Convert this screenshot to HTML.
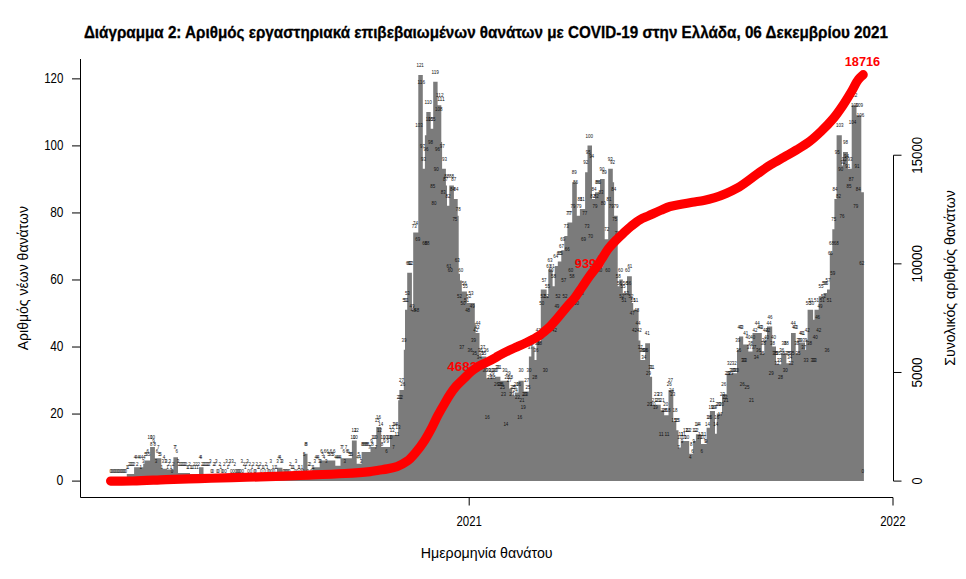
<!DOCTYPE html>
<html><head><meta charset="utf-8"><style>
html,body{margin:0;padding:0;background:#fff;}
svg{display:block;font-family:"Liberation Sans", sans-serif;}
</style></head><body>
<svg width="966" height="579" viewBox="0 0 966 579">
<rect width="966" height="579" fill="#fff"/>
<text x="485.9" y="37.9" font-size="16.4" text-anchor="middle" font-weight="bold" fill="#000" textLength="804" lengthAdjust="spacingAndGlyphs" stroke="#000" stroke-width="0.3">Διάγραμμα 2: Αριθμός εργαστηριακά επιβεβαιωμένων θανάτων με COVID-19 στην Ελλάδα, 06 Δεκεμβρίου 2021</text>
<path d="M126.80,481.0L126.80,473.90L134.10,473.90L134.10,467.19L143.20,467.19L143.20,463.84L144.50,463.84L144.50,460.49L150.10,460.49L150.10,447.08L154.90,447.08L154.90,458.14L161.30,458.14L161.30,468.87L167.00,468.87L167.00,469.54L173.40,469.54L173.40,457.14L178.00,457.14L178.00,472.89L190.00,472.89L190.00,473.90L199.00,473.90L199.00,467.19L203.50,467.19L203.50,476.58L240.00,476.58L240.00,477.25L277.00,477.25L277.00,467.86L282.40,467.86L282.40,477.25L303.20,477.25L303.20,453.78L307.50,453.78L307.50,473.90L312.50,473.90L312.50,467.19L319.70,467.19L319.70,460.49L335.30,460.49L335.30,465.85L340.50,465.85L340.50,458.14L351.90,458.14L351.90,440.38L356.70,440.38L356.70,463.84L361.60,463.84L361.60,452.11L370.50,452.11L370.50,447.08L376.30,447.08L376.30,426.97L381.20,426.97L381.20,447.08L390.00,447.08L390.00,435.01L398.20,435.01L398.20,400.15L399.40,400.15L399.40,390.10L403.80,390.10L403.80,349.87L405.00,349.87L405.00,309.65L407.20,309.65L407.20,272.78L411.90,272.78L411.90,309.65L413.20,309.65L413.20,232.55L418.30,232.55L418.30,75.01L422.80,75.01L422.80,168.86L424.90,168.86L424.90,135.34L426.30,135.34L426.30,111.88L430.70,111.88L430.70,128.64L433.20,128.64L433.20,81.71L437.60,81.71L437.60,105.18L441.30,105.18L441.30,142.05L442.10,142.05L442.10,168.86L445.90,168.86L445.90,185.62L447.00,185.62L447.00,205.74L449.30,205.74L449.30,185.62L453.90,185.62L453.90,199.03L457.70,199.03L457.70,215.79L458.70,215.79L458.70,273.78L460.00,273.78L460.00,280.49L461.80,280.49L461.80,291.55L466.90,291.55L466.90,302.94L474.80,302.94L474.80,323.06L475.60,323.06L475.60,333.11L479.50,333.11L479.50,356.58L486.40,356.58L486.40,378.36L495.20,378.36L495.20,376.69L500.40,376.69L500.40,380.71L509.20,380.71L509.20,388.42L512.30,388.42L512.30,395.46L514.90,395.46L514.90,392.44L518.50,392.44L518.50,380.71L523.70,380.71L523.70,391.44L528.90,391.44L528.90,356.58L531.30,356.58L531.30,346.52L534.50,346.52L534.50,359.93L536.50,359.93L536.50,341.49L540.80,341.49L540.80,289.54L546.60,289.54L546.60,296.24L548.30,296.24L548.30,269.42L552.60,269.42L552.60,286.18L554.70,286.18L554.70,266.07L557.80,266.07L557.80,261.38L561.30,261.38L561.30,250.32L564.30,250.32L564.30,235.90L567.40,235.90L567.40,222.50L572.20,222.50L572.20,182.27L576.80,182.27L576.80,215.79L579.90,215.79L579.90,209.09L585.10,209.09L585.10,172.22L587.50,172.22L587.50,145.40L592.00,145.40L592.00,199.03L595.00,199.03L595.00,192.33L600.00,192.33L600.00,178.92L604.70,178.92L604.70,239.26L608.20,239.26L608.20,168.86L612.80,168.86L612.80,182.27L614.10,182.27L614.10,215.79L617.70,215.79L617.70,286.18L619.30,286.18L619.30,279.48L622.80,279.48L622.80,292.89L627.00,292.89L627.00,276.13L631.80,276.13L631.80,302.94L633.20,302.94L633.20,309.65L638.60,309.65L638.60,340.49L640.40,340.49L640.40,359.93L645.20,359.93L645.20,343.17L650.00,343.17L650.00,376.69L652.10,376.69L652.10,404.84L660.70,404.84L660.70,410.21L664.20,410.21L664.20,415.24L668.50,415.24L668.50,390.10L673.30,390.10L673.30,421.94L676.30,421.94L676.30,430.32L678.50,430.32L678.50,447.42L680.80,447.42L680.80,441.05L689.20,441.05L689.20,453.78L693.10,453.78L693.10,441.05L695.90,441.05L695.90,434.34L701.00,434.34L701.00,444.06L706.60,444.06L706.60,427.64L709.90,427.64L709.90,410.88L715.00,410.88L715.00,433.67L716.80,433.67L716.80,413.56L722.00,413.56L722.00,394.12L726.60,394.12L726.60,374.01L731.80,374.01L731.80,373.34L737.00,373.34L737.00,349.87L739.00,349.87L739.00,336.46L743.20,336.46L743.20,344.51L748.30,344.51L748.30,351.55L752.50,351.55L752.50,333.11L761.80,333.11L761.80,353.22L764.30,353.22L764.30,340.49L767.00,340.49L767.00,326.41L772.20,326.41L772.20,346.52L776.00,346.52L776.00,364.29L781.20,364.29L781.20,353.22L786.40,353.22L786.40,363.28L791.00,363.28L791.00,333.11L795.70,333.11L795.70,353.22L798.30,353.22L798.30,342.50L805.00,342.50L805.00,349.87L806.10,349.87L806.10,339.82L807.60,339.82L807.60,309.65L813.10,309.65L813.10,319.70L814.50,319.70L814.50,309.65L818.70,309.65L818.70,296.24L823.50,296.24L823.50,292.89L827.00,292.89L827.00,289.54L829.80,289.54L829.80,252.66L832.30,252.66L832.30,229.20L834.40,229.20L834.40,199.03L836.60,199.03L836.60,135.34L841.80,135.34L841.80,165.51L843.00,165.51L843.00,152.10L847.90,152.10L847.90,168.86L851.70,168.86L851.70,105.18L856.50,105.18L856.50,115.23L861.30,115.23L861.30,192.33L863.90,192.33L863.90,481.0Z" fill="#7b7b7b"/>
<g font-size="6" text-anchor="middle" fill="#111"><text x="110.70" y="472.70" textLength="2.5" lengthAdjust="spacingAndGlyphs">0</text>
<text x="111.86" y="472.70" textLength="2.5" lengthAdjust="spacingAndGlyphs">0</text>
<text x="113.02" y="472.70" textLength="2.5" lengthAdjust="spacingAndGlyphs">0</text>
<text x="114.18" y="472.70" textLength="2.5" lengthAdjust="spacingAndGlyphs">0</text>
<text x="115.34" y="472.70" textLength="2.5" lengthAdjust="spacingAndGlyphs">0</text>
<text x="116.49" y="472.70" textLength="2.5" lengthAdjust="spacingAndGlyphs">0</text>
<text x="117.65" y="472.70" textLength="2.5" lengthAdjust="spacingAndGlyphs">0</text>
<text x="118.81" y="472.70" textLength="2.5" lengthAdjust="spacingAndGlyphs">0</text>
<text x="119.97" y="472.70" textLength="2.5" lengthAdjust="spacingAndGlyphs">0</text>
<text x="121.13" y="472.70" textLength="2.5" lengthAdjust="spacingAndGlyphs">0</text>
<text x="122.29" y="472.70" textLength="2.5" lengthAdjust="spacingAndGlyphs">0</text>
<text x="123.45" y="472.70" textLength="2.5" lengthAdjust="spacingAndGlyphs">0</text>
<text x="124.61" y="472.70" textLength="2.5" lengthAdjust="spacingAndGlyphs">0</text>
<text x="125.77" y="472.70" textLength="2.5" lengthAdjust="spacingAndGlyphs">0</text>
<text x="126.92" y="469.35" textLength="2.5" lengthAdjust="spacingAndGlyphs">1</text>
<text x="128.08" y="469.35" textLength="2.5" lengthAdjust="spacingAndGlyphs">1</text>
<text x="129.24" y="466.00" textLength="2.5" lengthAdjust="spacingAndGlyphs">2</text>
<text x="130.40" y="466.00" textLength="2.5" lengthAdjust="spacingAndGlyphs">2</text>
<text x="131.56" y="466.00" textLength="2.5" lengthAdjust="spacingAndGlyphs">2</text>
<text x="132.72" y="466.00" textLength="2.5" lengthAdjust="spacingAndGlyphs">2</text>
<text x="133.88" y="466.00" textLength="2.5" lengthAdjust="spacingAndGlyphs">2</text>
<text x="135.04" y="459.29" textLength="2.5" lengthAdjust="spacingAndGlyphs">4</text>
<text x="136.20" y="459.29" textLength="2.5" lengthAdjust="spacingAndGlyphs">4</text>
<text x="137.35" y="466.00" textLength="2.5" lengthAdjust="spacingAndGlyphs">2</text>
<text x="138.51" y="459.29" textLength="2.5" lengthAdjust="spacingAndGlyphs">4</text>
<text x="139.67" y="459.29" textLength="2.5" lengthAdjust="spacingAndGlyphs">4</text>
<text x="140.83" y="469.35" textLength="2.5" lengthAdjust="spacingAndGlyphs">1</text>
<text x="141.99" y="459.29" textLength="2.5" lengthAdjust="spacingAndGlyphs">4</text>
<text x="143.15" y="462.64" textLength="2.5" lengthAdjust="spacingAndGlyphs">3</text>
<text x="144.31" y="459.29" textLength="2.5" lengthAdjust="spacingAndGlyphs">4</text>
<text x="145.47" y="455.94" textLength="2.5" lengthAdjust="spacingAndGlyphs">5</text>
<text x="146.63" y="455.94" textLength="2.5" lengthAdjust="spacingAndGlyphs">5</text>
<text x="147.78" y="452.59" textLength="2.5" lengthAdjust="spacingAndGlyphs">6</text>
<text x="148.94" y="455.94" textLength="2.5" lengthAdjust="spacingAndGlyphs">5</text>
<text x="150.10" y="439.18" textLength="5.0" lengthAdjust="spacingAndGlyphs">10</text>
<text x="151.26" y="445.88" textLength="2.5" lengthAdjust="spacingAndGlyphs">8</text>
<text x="152.42" y="439.18" textLength="5.0" lengthAdjust="spacingAndGlyphs">10</text>
<text x="153.58" y="442.53" textLength="2.5" lengthAdjust="spacingAndGlyphs">9</text>
<text x="154.74" y="445.88" textLength="2.5" lengthAdjust="spacingAndGlyphs">8</text>
<text x="155.90" y="462.64" textLength="2.5" lengthAdjust="spacingAndGlyphs">3</text>
<text x="157.06" y="452.59" textLength="2.5" lengthAdjust="spacingAndGlyphs">6</text>
<text x="158.21" y="449.24" textLength="2.5" lengthAdjust="spacingAndGlyphs">7</text>
<text x="159.37" y="455.94" textLength="2.5" lengthAdjust="spacingAndGlyphs">5</text>
<text x="160.53" y="455.94" textLength="2.5" lengthAdjust="spacingAndGlyphs">5</text>
<text x="161.69" y="469.35" textLength="2.5" lengthAdjust="spacingAndGlyphs">1</text>
<text x="162.85" y="462.64" textLength="2.5" lengthAdjust="spacingAndGlyphs">3</text>
<text x="164.01" y="459.29" textLength="2.5" lengthAdjust="spacingAndGlyphs">4</text>
<text x="165.17" y="462.64" textLength="2.5" lengthAdjust="spacingAndGlyphs">3</text>
<text x="166.33" y="462.64" textLength="2.5" lengthAdjust="spacingAndGlyphs">3</text>
<text x="167.49" y="469.35" textLength="2.5" lengthAdjust="spacingAndGlyphs">1</text>
<text x="168.65" y="466.00" textLength="2.5" lengthAdjust="spacingAndGlyphs">2</text>
<text x="169.80" y="462.64" textLength="2.5" lengthAdjust="spacingAndGlyphs">3</text>
<text x="170.96" y="469.35" textLength="2.5" lengthAdjust="spacingAndGlyphs">1</text>
<text x="172.12" y="472.70" textLength="2.5" lengthAdjust="spacingAndGlyphs">0</text>
<text x="173.28" y="466.00" textLength="2.5" lengthAdjust="spacingAndGlyphs">2</text>
<text x="174.44" y="449.24" textLength="2.5" lengthAdjust="spacingAndGlyphs">7</text>
<text x="175.60" y="449.24" textLength="2.5" lengthAdjust="spacingAndGlyphs">7</text>
<text x="176.76" y="452.59" textLength="2.5" lengthAdjust="spacingAndGlyphs">6</text>
<text x="177.92" y="462.64" textLength="2.5" lengthAdjust="spacingAndGlyphs">3</text>
<text x="179.08" y="466.00" textLength="2.5" lengthAdjust="spacingAndGlyphs">2</text>
<text x="180.23" y="466.00" textLength="2.5" lengthAdjust="spacingAndGlyphs">2</text>
<text x="181.39" y="466.00" textLength="2.5" lengthAdjust="spacingAndGlyphs">2</text>
<text x="182.55" y="466.00" textLength="2.5" lengthAdjust="spacingAndGlyphs">2</text>
<text x="183.71" y="466.00" textLength="2.5" lengthAdjust="spacingAndGlyphs">2</text>
<text x="184.87" y="466.00" textLength="2.5" lengthAdjust="spacingAndGlyphs">2</text>
<text x="186.03" y="466.00" textLength="2.5" lengthAdjust="spacingAndGlyphs">2</text>
<text x="187.19" y="469.35" textLength="2.5" lengthAdjust="spacingAndGlyphs">1</text>
<text x="188.35" y="469.35" textLength="2.5" lengthAdjust="spacingAndGlyphs">1</text>
<text x="189.51" y="466.00" textLength="2.5" lengthAdjust="spacingAndGlyphs">2</text>
<text x="190.66" y="469.35" textLength="2.5" lengthAdjust="spacingAndGlyphs">1</text>
<text x="191.82" y="469.35" textLength="2.5" lengthAdjust="spacingAndGlyphs">1</text>
<text x="192.98" y="469.35" textLength="2.5" lengthAdjust="spacingAndGlyphs">1</text>
<text x="194.14" y="466.00" textLength="2.5" lengthAdjust="spacingAndGlyphs">2</text>
<text x="195.30" y="469.35" textLength="2.5" lengthAdjust="spacingAndGlyphs">1</text>
<text x="196.46" y="466.00" textLength="2.5" lengthAdjust="spacingAndGlyphs">2</text>
<text x="197.62" y="469.35" textLength="2.5" lengthAdjust="spacingAndGlyphs">1</text>
<text x="198.78" y="466.00" textLength="2.5" lengthAdjust="spacingAndGlyphs">2</text>
<text x="199.94" y="459.29" textLength="2.5" lengthAdjust="spacingAndGlyphs">4</text>
<text x="201.09" y="459.29" textLength="2.5" lengthAdjust="spacingAndGlyphs">4</text>
<text x="202.25" y="466.00" textLength="2.5" lengthAdjust="spacingAndGlyphs">2</text>
<text x="203.41" y="466.00" textLength="2.5" lengthAdjust="spacingAndGlyphs">2</text>
<text x="204.57" y="466.00" textLength="2.5" lengthAdjust="spacingAndGlyphs">2</text>
<text x="205.73" y="466.00" textLength="2.5" lengthAdjust="spacingAndGlyphs">2</text>
<text x="206.89" y="466.00" textLength="2.5" lengthAdjust="spacingAndGlyphs">2</text>
<text x="208.05" y="466.00" textLength="2.5" lengthAdjust="spacingAndGlyphs">2</text>
<text x="209.21" y="466.00" textLength="2.5" lengthAdjust="spacingAndGlyphs">2</text>
<text x="210.37" y="462.64" textLength="2.5" lengthAdjust="spacingAndGlyphs">3</text>
<text x="211.52" y="472.70" textLength="2.5" lengthAdjust="spacingAndGlyphs">0</text>
<text x="212.68" y="472.70" textLength="2.5" lengthAdjust="spacingAndGlyphs">0</text>
<text x="213.84" y="466.00" textLength="2.5" lengthAdjust="spacingAndGlyphs">2</text>
<text x="215.00" y="466.00" textLength="2.5" lengthAdjust="spacingAndGlyphs">2</text>
<text x="216.16" y="462.64" textLength="2.5" lengthAdjust="spacingAndGlyphs">3</text>
<text x="217.32" y="472.70" textLength="2.5" lengthAdjust="spacingAndGlyphs">0</text>
<text x="218.48" y="472.70" textLength="2.5" lengthAdjust="spacingAndGlyphs">0</text>
<text x="219.64" y="466.00" textLength="2.5" lengthAdjust="spacingAndGlyphs">2</text>
<text x="220.80" y="469.35" textLength="2.5" lengthAdjust="spacingAndGlyphs">1</text>
<text x="221.95" y="472.70" textLength="2.5" lengthAdjust="spacingAndGlyphs">0</text>
<text x="223.11" y="472.70" textLength="2.5" lengthAdjust="spacingAndGlyphs">0</text>
<text x="224.27" y="466.00" textLength="2.5" lengthAdjust="spacingAndGlyphs">2</text>
<text x="225.43" y="472.70" textLength="2.5" lengthAdjust="spacingAndGlyphs">0</text>
<text x="226.59" y="462.64" textLength="2.5" lengthAdjust="spacingAndGlyphs">3</text>
<text x="227.75" y="469.35" textLength="2.5" lengthAdjust="spacingAndGlyphs">1</text>
<text x="228.91" y="466.00" textLength="2.5" lengthAdjust="spacingAndGlyphs">2</text>
<text x="230.07" y="462.64" textLength="2.5" lengthAdjust="spacingAndGlyphs">3</text>
<text x="231.23" y="472.70" textLength="2.5" lengthAdjust="spacingAndGlyphs">0</text>
<text x="232.38" y="462.64" textLength="2.5" lengthAdjust="spacingAndGlyphs">3</text>
<text x="233.54" y="472.70" textLength="2.5" lengthAdjust="spacingAndGlyphs">0</text>
<text x="234.70" y="466.00" textLength="2.5" lengthAdjust="spacingAndGlyphs">2</text>
<text x="235.86" y="472.70" textLength="2.5" lengthAdjust="spacingAndGlyphs">0</text>
<text x="237.02" y="472.70" textLength="2.5" lengthAdjust="spacingAndGlyphs">0</text>
<text x="238.18" y="472.70" textLength="2.5" lengthAdjust="spacingAndGlyphs">0</text>
<text x="239.34" y="472.70" textLength="2.5" lengthAdjust="spacingAndGlyphs">0</text>
<text x="240.50" y="472.70" textLength="2.5" lengthAdjust="spacingAndGlyphs">0</text>
<text x="241.66" y="462.64" textLength="2.5" lengthAdjust="spacingAndGlyphs">3</text>
<text x="242.81" y="472.70" textLength="2.5" lengthAdjust="spacingAndGlyphs">0</text>
<text x="243.97" y="466.00" textLength="2.5" lengthAdjust="spacingAndGlyphs">2</text>
<text x="245.13" y="469.35" textLength="2.5" lengthAdjust="spacingAndGlyphs">1</text>
<text x="246.29" y="466.00" textLength="2.5" lengthAdjust="spacingAndGlyphs">2</text>
<text x="247.45" y="462.64" textLength="2.5" lengthAdjust="spacingAndGlyphs">3</text>
<text x="248.61" y="472.70" textLength="2.5" lengthAdjust="spacingAndGlyphs">0</text>
<text x="249.77" y="466.00" textLength="2.5" lengthAdjust="spacingAndGlyphs">2</text>
<text x="250.93" y="472.70" textLength="2.5" lengthAdjust="spacingAndGlyphs">0</text>
<text x="252.09" y="469.35" textLength="2.5" lengthAdjust="spacingAndGlyphs">1</text>
<text x="253.24" y="466.00" textLength="2.5" lengthAdjust="spacingAndGlyphs">2</text>
<text x="254.40" y="472.70" textLength="2.5" lengthAdjust="spacingAndGlyphs">0</text>
<text x="255.56" y="472.70" textLength="2.5" lengthAdjust="spacingAndGlyphs">0</text>
<text x="256.72" y="466.00" textLength="2.5" lengthAdjust="spacingAndGlyphs">2</text>
<text x="257.88" y="469.35" textLength="2.5" lengthAdjust="spacingAndGlyphs">1</text>
<text x="259.04" y="469.35" textLength="2.5" lengthAdjust="spacingAndGlyphs">1</text>
<text x="260.20" y="466.00" textLength="2.5" lengthAdjust="spacingAndGlyphs">2</text>
<text x="261.36" y="472.70" textLength="2.5" lengthAdjust="spacingAndGlyphs">0</text>
<text x="262.52" y="469.35" textLength="2.5" lengthAdjust="spacingAndGlyphs">1</text>
<text x="263.67" y="469.35" textLength="2.5" lengthAdjust="spacingAndGlyphs">1</text>
<text x="264.83" y="472.70" textLength="2.5" lengthAdjust="spacingAndGlyphs">0</text>
<text x="265.99" y="466.00" textLength="2.5" lengthAdjust="spacingAndGlyphs">2</text>
<text x="267.15" y="469.35" textLength="2.5" lengthAdjust="spacingAndGlyphs">1</text>
<text x="268.31" y="472.70" textLength="2.5" lengthAdjust="spacingAndGlyphs">0</text>
<text x="269.47" y="472.70" textLength="2.5" lengthAdjust="spacingAndGlyphs">0</text>
<text x="270.63" y="462.64" textLength="2.5" lengthAdjust="spacingAndGlyphs">3</text>
<text x="271.79" y="472.70" textLength="2.5" lengthAdjust="spacingAndGlyphs">0</text>
<text x="272.95" y="469.35" textLength="2.5" lengthAdjust="spacingAndGlyphs">1</text>
<text x="274.10" y="472.70" textLength="2.5" lengthAdjust="spacingAndGlyphs">0</text>
<text x="275.26" y="469.35" textLength="2.5" lengthAdjust="spacingAndGlyphs">1</text>
<text x="276.42" y="469.35" textLength="2.5" lengthAdjust="spacingAndGlyphs">1</text>
<text x="277.58" y="462.64" textLength="2.5" lengthAdjust="spacingAndGlyphs">3</text>
<text x="278.74" y="459.29" textLength="2.5" lengthAdjust="spacingAndGlyphs">4</text>
<text x="279.90" y="459.29" textLength="2.5" lengthAdjust="spacingAndGlyphs">4</text>
<text x="281.06" y="462.64" textLength="2.5" lengthAdjust="spacingAndGlyphs">3</text>
<text x="282.22" y="462.64" textLength="2.5" lengthAdjust="spacingAndGlyphs">3</text>
<text x="283.38" y="472.70" textLength="2.5" lengthAdjust="spacingAndGlyphs">0</text>
<text x="284.54" y="472.70" textLength="2.5" lengthAdjust="spacingAndGlyphs">0</text>
<text x="285.69" y="472.70" textLength="2.5" lengthAdjust="spacingAndGlyphs">0</text>
<text x="286.85" y="472.70" textLength="2.5" lengthAdjust="spacingAndGlyphs">0</text>
<text x="288.01" y="472.70" textLength="2.5" lengthAdjust="spacingAndGlyphs">0</text>
<text x="289.17" y="472.70" textLength="2.5" lengthAdjust="spacingAndGlyphs">0</text>
<text x="290.33" y="466.00" textLength="2.5" lengthAdjust="spacingAndGlyphs">2</text>
<text x="291.49" y="469.35" textLength="2.5" lengthAdjust="spacingAndGlyphs">1</text>
<text x="292.65" y="469.35" textLength="2.5" lengthAdjust="spacingAndGlyphs">1</text>
<text x="293.81" y="469.35" textLength="2.5" lengthAdjust="spacingAndGlyphs">1</text>
<text x="294.97" y="472.70" textLength="2.5" lengthAdjust="spacingAndGlyphs">0</text>
<text x="296.12" y="462.64" textLength="2.5" lengthAdjust="spacingAndGlyphs">3</text>
<text x="297.28" y="472.70" textLength="2.5" lengthAdjust="spacingAndGlyphs">0</text>
<text x="298.44" y="469.35" textLength="2.5" lengthAdjust="spacingAndGlyphs">1</text>
<text x="299.60" y="469.35" textLength="2.5" lengthAdjust="spacingAndGlyphs">1</text>
<text x="300.76" y="472.70" textLength="2.5" lengthAdjust="spacingAndGlyphs">0</text>
<text x="301.92" y="469.35" textLength="2.5" lengthAdjust="spacingAndGlyphs">1</text>
<text x="303.08" y="472.70" textLength="2.5" lengthAdjust="spacingAndGlyphs">0</text>
<text x="304.24" y="455.94" textLength="2.5" lengthAdjust="spacingAndGlyphs">5</text>
<text x="305.40" y="445.88" textLength="2.5" lengthAdjust="spacingAndGlyphs">8</text>
<text x="306.55" y="445.88" textLength="2.5" lengthAdjust="spacingAndGlyphs">8</text>
<text x="307.71" y="472.70" textLength="2.5" lengthAdjust="spacingAndGlyphs">0</text>
<text x="308.87" y="466.00" textLength="2.5" lengthAdjust="spacingAndGlyphs">2</text>
<text x="310.03" y="466.00" textLength="2.5" lengthAdjust="spacingAndGlyphs">2</text>
<text x="311.19" y="472.70" textLength="2.5" lengthAdjust="spacingAndGlyphs">0</text>
<text x="312.35" y="469.35" textLength="2.5" lengthAdjust="spacingAndGlyphs">1</text>
<text x="313.51" y="469.35" textLength="2.5" lengthAdjust="spacingAndGlyphs">1</text>
<text x="314.67" y="462.64" textLength="2.5" lengthAdjust="spacingAndGlyphs">3</text>
<text x="315.83" y="459.29" textLength="2.5" lengthAdjust="spacingAndGlyphs">4</text>
<text x="316.98" y="459.29" textLength="2.5" lengthAdjust="spacingAndGlyphs">4</text>
<text x="318.14" y="459.29" textLength="2.5" lengthAdjust="spacingAndGlyphs">4</text>
<text x="319.30" y="462.64" textLength="2.5" lengthAdjust="spacingAndGlyphs">3</text>
<text x="320.46" y="462.64" textLength="2.5" lengthAdjust="spacingAndGlyphs">3</text>
<text x="321.62" y="452.59" textLength="2.5" lengthAdjust="spacingAndGlyphs">6</text>
<text x="322.78" y="455.94" textLength="2.5" lengthAdjust="spacingAndGlyphs">5</text>
<text x="323.94" y="459.29" textLength="2.5" lengthAdjust="spacingAndGlyphs">4</text>
<text x="325.10" y="452.59" textLength="2.5" lengthAdjust="spacingAndGlyphs">6</text>
<text x="326.26" y="462.64" textLength="2.5" lengthAdjust="spacingAndGlyphs">3</text>
<text x="327.41" y="452.59" textLength="2.5" lengthAdjust="spacingAndGlyphs">6</text>
<text x="328.57" y="455.94" textLength="2.5" lengthAdjust="spacingAndGlyphs">5</text>
<text x="329.73" y="455.94" textLength="2.5" lengthAdjust="spacingAndGlyphs">5</text>
<text x="330.89" y="452.59" textLength="2.5" lengthAdjust="spacingAndGlyphs">6</text>
<text x="332.05" y="455.94" textLength="2.5" lengthAdjust="spacingAndGlyphs">5</text>
<text x="333.21" y="455.94" textLength="2.5" lengthAdjust="spacingAndGlyphs">5</text>
<text x="334.37" y="452.59" textLength="2.5" lengthAdjust="spacingAndGlyphs">6</text>
<text x="335.53" y="459.29" textLength="2.5" lengthAdjust="spacingAndGlyphs">4</text>
<text x="336.69" y="459.29" textLength="2.5" lengthAdjust="spacingAndGlyphs">4</text>
<text x="337.84" y="459.29" textLength="2.5" lengthAdjust="spacingAndGlyphs">4</text>
<text x="339.00" y="459.29" textLength="2.5" lengthAdjust="spacingAndGlyphs">4</text>
<text x="340.16" y="459.29" textLength="2.5" lengthAdjust="spacingAndGlyphs">4</text>
<text x="341.32" y="449.24" textLength="2.5" lengthAdjust="spacingAndGlyphs">7</text>
<text x="342.48" y="449.24" textLength="2.5" lengthAdjust="spacingAndGlyphs">7</text>
<text x="343.64" y="452.59" textLength="2.5" lengthAdjust="spacingAndGlyphs">6</text>
<text x="344.80" y="462.64" textLength="2.5" lengthAdjust="spacingAndGlyphs">3</text>
<text x="345.96" y="449.24" textLength="2.5" lengthAdjust="spacingAndGlyphs">7</text>
<text x="347.12" y="452.59" textLength="2.5" lengthAdjust="spacingAndGlyphs">6</text>
<text x="348.27" y="452.59" textLength="2.5" lengthAdjust="spacingAndGlyphs">6</text>
<text x="349.43" y="455.94" textLength="2.5" lengthAdjust="spacingAndGlyphs">5</text>
<text x="350.59" y="455.94" textLength="2.5" lengthAdjust="spacingAndGlyphs">5</text>
<text x="351.75" y="455.94" textLength="2.5" lengthAdjust="spacingAndGlyphs">5</text>
<text x="352.91" y="439.18" textLength="5.0" lengthAdjust="spacingAndGlyphs">10</text>
<text x="354.07" y="432.48" textLength="5.0" lengthAdjust="spacingAndGlyphs">12</text>
<text x="355.23" y="439.18" textLength="5.0" lengthAdjust="spacingAndGlyphs">10</text>
<text x="356.39" y="432.48" textLength="5.0" lengthAdjust="spacingAndGlyphs">12</text>
<text x="357.55" y="459.29" textLength="2.5" lengthAdjust="spacingAndGlyphs">4</text>
<text x="358.70" y="455.94" textLength="2.5" lengthAdjust="spacingAndGlyphs">5</text>
<text x="359.86" y="459.29" textLength="2.5" lengthAdjust="spacingAndGlyphs">4</text>
<text x="361.02" y="462.64" textLength="2.5" lengthAdjust="spacingAndGlyphs">3</text>
<text x="362.18" y="445.88" textLength="2.5" lengthAdjust="spacingAndGlyphs">8</text>
<text x="363.34" y="445.88" textLength="2.5" lengthAdjust="spacingAndGlyphs">8</text>
<text x="364.50" y="445.88" textLength="2.5" lengthAdjust="spacingAndGlyphs">8</text>
<text x="365.66" y="445.88" textLength="2.5" lengthAdjust="spacingAndGlyphs">8</text>
<text x="366.82" y="445.88" textLength="2.5" lengthAdjust="spacingAndGlyphs">8</text>
<text x="367.98" y="445.88" textLength="2.5" lengthAdjust="spacingAndGlyphs">8</text>
<text x="369.13" y="449.24" textLength="2.5" lengthAdjust="spacingAndGlyphs">7</text>
<text x="370.29" y="449.24" textLength="2.5" lengthAdjust="spacingAndGlyphs">7</text>
<text x="371.45" y="442.53" textLength="2.5" lengthAdjust="spacingAndGlyphs">9</text>
<text x="372.61" y="445.88" textLength="2.5" lengthAdjust="spacingAndGlyphs">8</text>
<text x="373.77" y="439.18" textLength="5.0" lengthAdjust="spacingAndGlyphs">10</text>
<text x="374.93" y="439.18" textLength="5.0" lengthAdjust="spacingAndGlyphs">10</text>
<text x="376.09" y="449.24" textLength="2.5" lengthAdjust="spacingAndGlyphs">7</text>
<text x="377.25" y="422.42" textLength="5.0" lengthAdjust="spacingAndGlyphs">15</text>
<text x="378.41" y="419.07" textLength="5.0" lengthAdjust="spacingAndGlyphs">16</text>
<text x="379.56" y="432.48" textLength="5.0" lengthAdjust="spacingAndGlyphs">12</text>
<text x="380.72" y="425.77" textLength="5.0" lengthAdjust="spacingAndGlyphs">14</text>
<text x="381.88" y="445.88" textLength="2.5" lengthAdjust="spacingAndGlyphs">8</text>
<text x="383.04" y="439.18" textLength="5.0" lengthAdjust="spacingAndGlyphs">10</text>
<text x="384.20" y="442.53" textLength="2.5" lengthAdjust="spacingAndGlyphs">9</text>
<text x="385.36" y="439.18" textLength="5.0" lengthAdjust="spacingAndGlyphs">10</text>
<text x="386.52" y="452.59" textLength="2.5" lengthAdjust="spacingAndGlyphs">6</text>
<text x="387.68" y="442.53" textLength="2.5" lengthAdjust="spacingAndGlyphs">9</text>
<text x="388.84" y="439.18" textLength="5.0" lengthAdjust="spacingAndGlyphs">10</text>
<text x="389.99" y="439.18" textLength="5.0" lengthAdjust="spacingAndGlyphs">10</text>
<text x="391.15" y="429.12" textLength="5.0" lengthAdjust="spacingAndGlyphs">13</text>
<text x="392.31" y="432.48" textLength="5.0" lengthAdjust="spacingAndGlyphs">12</text>
<text x="393.47" y="449.24" textLength="2.5" lengthAdjust="spacingAndGlyphs">7</text>
<text x="394.63" y="425.77" textLength="5.0" lengthAdjust="spacingAndGlyphs">14</text>
<text x="395.79" y="425.77" textLength="5.0" lengthAdjust="spacingAndGlyphs">14</text>
<text x="396.95" y="435.83" textLength="5.0" lengthAdjust="spacingAndGlyphs">11</text>
<text x="398.11" y="429.12" textLength="5.0" lengthAdjust="spacingAndGlyphs">13</text>
<text x="399.27" y="398.96" textLength="5.0" lengthAdjust="spacingAndGlyphs">22</text>
<text x="400.43" y="398.96" textLength="5.0" lengthAdjust="spacingAndGlyphs">22</text>
<text x="401.58" y="382.20" textLength="5.0" lengthAdjust="spacingAndGlyphs">27</text>
<text x="402.74" y="385.55" textLength="5.0" lengthAdjust="spacingAndGlyphs">26</text>
<text x="403.90" y="341.97" textLength="5.0" lengthAdjust="spacingAndGlyphs">39</text>
<text x="405.06" y="301.75" textLength="5.0" lengthAdjust="spacingAndGlyphs">51</text>
<text x="406.22" y="301.75" textLength="5.0" lengthAdjust="spacingAndGlyphs">51</text>
<text x="407.38" y="295.04" textLength="5.0" lengthAdjust="spacingAndGlyphs">53</text>
<text x="408.54" y="264.88" textLength="5.0" lengthAdjust="spacingAndGlyphs">62</text>
<text x="409.70" y="264.88" textLength="5.0" lengthAdjust="spacingAndGlyphs">62</text>
<text x="410.86" y="264.88" textLength="5.0" lengthAdjust="spacingAndGlyphs">62</text>
<text x="412.01" y="308.45" textLength="5.0" lengthAdjust="spacingAndGlyphs">49</text>
<text x="413.17" y="311.80" textLength="5.0" lengthAdjust="spacingAndGlyphs">48</text>
<text x="414.33" y="228.00" textLength="5.0" lengthAdjust="spacingAndGlyphs">73</text>
<text x="415.49" y="224.65" textLength="5.0" lengthAdjust="spacingAndGlyphs">74</text>
<text x="416.65" y="311.80" textLength="5.0" lengthAdjust="spacingAndGlyphs">48</text>
<text x="417.81" y="241.41" textLength="5.0" lengthAdjust="spacingAndGlyphs">69</text>
<text x="418.97" y="127.44" textLength="7.5" lengthAdjust="spacingAndGlyphs">103</text>
<text x="420.13" y="67.11" textLength="7.5" lengthAdjust="spacingAndGlyphs">121</text>
<text x="421.29" y="83.87" textLength="7.5" lengthAdjust="spacingAndGlyphs">116</text>
<text x="422.44" y="147.56" textLength="5.0" lengthAdjust="spacingAndGlyphs">97</text>
<text x="423.60" y="160.96" textLength="5.0" lengthAdjust="spacingAndGlyphs">93</text>
<text x="424.76" y="244.76" textLength="5.0" lengthAdjust="spacingAndGlyphs">68</text>
<text x="425.92" y="150.91" textLength="5.0" lengthAdjust="spacingAndGlyphs">96</text>
<text x="427.08" y="244.76" textLength="5.0" lengthAdjust="spacingAndGlyphs">68</text>
<text x="428.24" y="103.98" textLength="7.5" lengthAdjust="spacingAndGlyphs">110</text>
<text x="429.40" y="120.74" textLength="7.5" lengthAdjust="spacingAndGlyphs">105</text>
<text x="430.56" y="144.20" textLength="5.0" lengthAdjust="spacingAndGlyphs">98</text>
<text x="431.72" y="120.74" textLength="7.5" lengthAdjust="spacingAndGlyphs">105</text>
<text x="432.87" y="187.78" textLength="5.0" lengthAdjust="spacingAndGlyphs">85</text>
<text x="434.03" y="204.54" textLength="5.0" lengthAdjust="spacingAndGlyphs">80</text>
<text x="435.19" y="73.81" textLength="7.5" lengthAdjust="spacingAndGlyphs">119</text>
<text x="436.35" y="171.02" textLength="5.0" lengthAdjust="spacingAndGlyphs">90</text>
<text x="437.51" y="150.91" textLength="5.0" lengthAdjust="spacingAndGlyphs">96</text>
<text x="438.67" y="110.68" textLength="7.5" lengthAdjust="spacingAndGlyphs">108</text>
<text x="439.83" y="97.28" textLength="7.5" lengthAdjust="spacingAndGlyphs">112</text>
<text x="440.99" y="100.63" textLength="7.5" lengthAdjust="spacingAndGlyphs">111</text>
<text x="442.15" y="147.56" textLength="5.0" lengthAdjust="spacingAndGlyphs">97</text>
<text x="443.30" y="194.48" textLength="5.0" lengthAdjust="spacingAndGlyphs">83</text>
<text x="444.46" y="160.96" textLength="5.0" lengthAdjust="spacingAndGlyphs">93</text>
<text x="445.62" y="181.08" textLength="5.0" lengthAdjust="spacingAndGlyphs">87</text>
<text x="446.78" y="177.72" textLength="5.0" lengthAdjust="spacingAndGlyphs">88</text>
<text x="447.94" y="197.84" textLength="5.0" lengthAdjust="spacingAndGlyphs">82</text>
<text x="449.10" y="268.23" textLength="5.0" lengthAdjust="spacingAndGlyphs">61</text>
<text x="450.26" y="271.58" textLength="5.0" lengthAdjust="spacingAndGlyphs">60</text>
<text x="451.42" y="177.72" textLength="5.0" lengthAdjust="spacingAndGlyphs">88</text>
<text x="452.58" y="191.13" textLength="5.0" lengthAdjust="spacingAndGlyphs">84</text>
<text x="453.73" y="181.08" textLength="5.0" lengthAdjust="spacingAndGlyphs">87</text>
<text x="454.89" y="221.30" textLength="5.0" lengthAdjust="spacingAndGlyphs">75</text>
<text x="456.05" y="191.13" textLength="5.0" lengthAdjust="spacingAndGlyphs">84</text>
<text x="457.21" y="261.52" textLength="5.0" lengthAdjust="spacingAndGlyphs">63</text>
<text x="458.37" y="211.24" textLength="5.0" lengthAdjust="spacingAndGlyphs">78</text>
<text x="459.53" y="298.40" textLength="5.0" lengthAdjust="spacingAndGlyphs">52</text>
<text x="460.69" y="271.58" textLength="5.0" lengthAdjust="spacingAndGlyphs">60</text>
<text x="461.85" y="348.68" textLength="5.0" lengthAdjust="spacingAndGlyphs">37</text>
<text x="463.01" y="305.10" textLength="5.0" lengthAdjust="spacingAndGlyphs">50</text>
<text x="464.16" y="284.99" textLength="5.0" lengthAdjust="spacingAndGlyphs">56</text>
<text x="465.32" y="288.34" textLength="5.0" lengthAdjust="spacingAndGlyphs">55</text>
<text x="466.48" y="301.75" textLength="5.0" lengthAdjust="spacingAndGlyphs">51</text>
<text x="467.64" y="311.80" textLength="5.0" lengthAdjust="spacingAndGlyphs">48</text>
<text x="468.80" y="298.40" textLength="5.0" lengthAdjust="spacingAndGlyphs">52</text>
<text x="469.96" y="352.03" textLength="5.0" lengthAdjust="spacingAndGlyphs">36</text>
<text x="471.12" y="295.04" textLength="5.0" lengthAdjust="spacingAndGlyphs">53</text>
<text x="472.28" y="308.45" textLength="5.0" lengthAdjust="spacingAndGlyphs">49</text>
<text x="473.44" y="341.97" textLength="5.0" lengthAdjust="spacingAndGlyphs">39</text>
<text x="474.59" y="355.38" textLength="5.0" lengthAdjust="spacingAndGlyphs">35</text>
<text x="475.75" y="331.92" textLength="5.0" lengthAdjust="spacingAndGlyphs">42</text>
<text x="476.91" y="328.56" textLength="5.0" lengthAdjust="spacingAndGlyphs">43</text>
<text x="478.07" y="325.21" textLength="5.0" lengthAdjust="spacingAndGlyphs">44</text>
<text x="479.23" y="358.73" textLength="5.0" lengthAdjust="spacingAndGlyphs">34</text>
<text x="480.39" y="352.03" textLength="5.0" lengthAdjust="spacingAndGlyphs">36</text>
<text x="481.55" y="355.38" textLength="5.0" lengthAdjust="spacingAndGlyphs">35</text>
<text x="482.71" y="348.68" textLength="5.0" lengthAdjust="spacingAndGlyphs">37</text>
<text x="483.87" y="355.38" textLength="5.0" lengthAdjust="spacingAndGlyphs">35</text>
<text x="485.02" y="372.14" textLength="5.0" lengthAdjust="spacingAndGlyphs">30</text>
<text x="486.18" y="352.03" textLength="5.0" lengthAdjust="spacingAndGlyphs">36</text>
<text x="487.34" y="419.07" textLength="5.0" lengthAdjust="spacingAndGlyphs">16</text>
<text x="488.50" y="372.14" textLength="5.0" lengthAdjust="spacingAndGlyphs">30</text>
<text x="489.66" y="378.84" textLength="5.0" lengthAdjust="spacingAndGlyphs">28</text>
<text x="490.82" y="372.14" textLength="5.0" lengthAdjust="spacingAndGlyphs">30</text>
<text x="491.98" y="375.49" textLength="5.0" lengthAdjust="spacingAndGlyphs">29</text>
<text x="493.14" y="378.84" textLength="5.0" lengthAdjust="spacingAndGlyphs">28</text>
<text x="494.30" y="372.14" textLength="5.0" lengthAdjust="spacingAndGlyphs">30</text>
<text x="495.45" y="372.14" textLength="5.0" lengthAdjust="spacingAndGlyphs">30</text>
<text x="496.61" y="385.55" textLength="5.0" lengthAdjust="spacingAndGlyphs">26</text>
<text x="497.77" y="368.79" textLength="5.0" lengthAdjust="spacingAndGlyphs">31</text>
<text x="498.93" y="368.79" textLength="5.0" lengthAdjust="spacingAndGlyphs">31</text>
<text x="500.09" y="385.55" textLength="5.0" lengthAdjust="spacingAndGlyphs">26</text>
<text x="501.25" y="385.55" textLength="5.0" lengthAdjust="spacingAndGlyphs">26</text>
<text x="502.41" y="388.90" textLength="5.0" lengthAdjust="spacingAndGlyphs">25</text>
<text x="503.57" y="395.60" textLength="5.0" lengthAdjust="spacingAndGlyphs">23</text>
<text x="504.73" y="372.14" textLength="5.0" lengthAdjust="spacingAndGlyphs">30</text>
<text x="505.88" y="425.77" textLength="5.0" lengthAdjust="spacingAndGlyphs">14</text>
<text x="507.04" y="378.84" textLength="5.0" lengthAdjust="spacingAndGlyphs">28</text>
<text x="508.20" y="375.49" textLength="5.0" lengthAdjust="spacingAndGlyphs">29</text>
<text x="509.36" y="382.20" textLength="5.0" lengthAdjust="spacingAndGlyphs">27</text>
<text x="510.52" y="378.84" textLength="5.0" lengthAdjust="spacingAndGlyphs">28</text>
<text x="511.68" y="395.60" textLength="5.0" lengthAdjust="spacingAndGlyphs">23</text>
<text x="512.84" y="388.90" textLength="5.0" lengthAdjust="spacingAndGlyphs">25</text>
<text x="514.00" y="388.90" textLength="5.0" lengthAdjust="spacingAndGlyphs">25</text>
<text x="515.16" y="392.25" textLength="5.0" lengthAdjust="spacingAndGlyphs">24</text>
<text x="516.32" y="385.55" textLength="5.0" lengthAdjust="spacingAndGlyphs">26</text>
<text x="517.47" y="398.96" textLength="5.0" lengthAdjust="spacingAndGlyphs">22</text>
<text x="518.63" y="385.55" textLength="5.0" lengthAdjust="spacingAndGlyphs">26</text>
<text x="519.79" y="419.07" textLength="5.0" lengthAdjust="spacingAndGlyphs">16</text>
<text x="520.95" y="372.14" textLength="5.0" lengthAdjust="spacingAndGlyphs">30</text>
<text x="522.11" y="402.31" textLength="5.0" lengthAdjust="spacingAndGlyphs">21</text>
<text x="523.27" y="409.01" textLength="5.0" lengthAdjust="spacingAndGlyphs">19</text>
<text x="524.43" y="395.60" textLength="5.0" lengthAdjust="spacingAndGlyphs">23</text>
<text x="525.59" y="395.60" textLength="5.0" lengthAdjust="spacingAndGlyphs">23</text>
<text x="526.75" y="382.20" textLength="5.0" lengthAdjust="spacingAndGlyphs">27</text>
<text x="527.90" y="388.90" textLength="5.0" lengthAdjust="spacingAndGlyphs">25</text>
<text x="529.06" y="372.14" textLength="5.0" lengthAdjust="spacingAndGlyphs">30</text>
<text x="530.22" y="348.68" textLength="5.0" lengthAdjust="spacingAndGlyphs">37</text>
<text x="531.38" y="345.32" textLength="5.0" lengthAdjust="spacingAndGlyphs">38</text>
<text x="532.54" y="338.62" textLength="5.0" lengthAdjust="spacingAndGlyphs">40</text>
<text x="533.70" y="341.97" textLength="5.0" lengthAdjust="spacingAndGlyphs">39</text>
<text x="534.86" y="378.84" textLength="5.0" lengthAdjust="spacingAndGlyphs">28</text>
<text x="536.02" y="352.03" textLength="5.0" lengthAdjust="spacingAndGlyphs">36</text>
<text x="537.18" y="345.32" textLength="5.0" lengthAdjust="spacingAndGlyphs">38</text>
<text x="538.33" y="331.92" textLength="5.0" lengthAdjust="spacingAndGlyphs">42</text>
<text x="539.49" y="345.32" textLength="5.0" lengthAdjust="spacingAndGlyphs">38</text>
<text x="540.65" y="338.62" textLength="5.0" lengthAdjust="spacingAndGlyphs">40</text>
<text x="541.81" y="305.10" textLength="5.0" lengthAdjust="spacingAndGlyphs">50</text>
<text x="542.97" y="298.40" textLength="5.0" lengthAdjust="spacingAndGlyphs">52</text>
<text x="544.13" y="281.64" textLength="5.0" lengthAdjust="spacingAndGlyphs">57</text>
<text x="545.29" y="372.14" textLength="5.0" lengthAdjust="spacingAndGlyphs">30</text>
<text x="546.45" y="298.40" textLength="5.0" lengthAdjust="spacingAndGlyphs">52</text>
<text x="547.61" y="288.34" textLength="5.0" lengthAdjust="spacingAndGlyphs">55</text>
<text x="548.76" y="268.23" textLength="5.0" lengthAdjust="spacingAndGlyphs">61</text>
<text x="549.92" y="261.52" textLength="5.0" lengthAdjust="spacingAndGlyphs">63</text>
<text x="551.08" y="271.58" textLength="5.0" lengthAdjust="spacingAndGlyphs">60</text>
<text x="552.24" y="268.23" textLength="5.0" lengthAdjust="spacingAndGlyphs">61</text>
<text x="553.40" y="278.28" textLength="5.0" lengthAdjust="spacingAndGlyphs">58</text>
<text x="554.56" y="331.92" textLength="5.0" lengthAdjust="spacingAndGlyphs">42</text>
<text x="555.72" y="258.17" textLength="5.0" lengthAdjust="spacingAndGlyphs">64</text>
<text x="556.88" y="308.45" textLength="5.0" lengthAdjust="spacingAndGlyphs">49</text>
<text x="558.04" y="298.40" textLength="5.0" lengthAdjust="spacingAndGlyphs">52</text>
<text x="559.19" y="254.82" textLength="5.0" lengthAdjust="spacingAndGlyphs">65</text>
<text x="560.35" y="254.82" textLength="5.0" lengthAdjust="spacingAndGlyphs">65</text>
<text x="561.51" y="248.12" textLength="5.0" lengthAdjust="spacingAndGlyphs">67</text>
<text x="562.67" y="241.41" textLength="5.0" lengthAdjust="spacingAndGlyphs">69</text>
<text x="563.83" y="281.64" textLength="5.0" lengthAdjust="spacingAndGlyphs">57</text>
<text x="564.99" y="298.40" textLength="5.0" lengthAdjust="spacingAndGlyphs">52</text>
<text x="566.15" y="228.00" textLength="5.0" lengthAdjust="spacingAndGlyphs">73</text>
<text x="567.31" y="251.47" textLength="5.0" lengthAdjust="spacingAndGlyphs">66</text>
<text x="568.47" y="214.60" textLength="5.0" lengthAdjust="spacingAndGlyphs">77</text>
<text x="569.62" y="214.60" textLength="5.0" lengthAdjust="spacingAndGlyphs">77</text>
<text x="570.78" y="271.58" textLength="5.0" lengthAdjust="spacingAndGlyphs">60</text>
<text x="571.94" y="278.28" textLength="5.0" lengthAdjust="spacingAndGlyphs">58</text>
<text x="573.10" y="207.89" textLength="5.0" lengthAdjust="spacingAndGlyphs">79</text>
<text x="574.26" y="174.37" textLength="5.0" lengthAdjust="spacingAndGlyphs">89</text>
<text x="575.42" y="184.43" textLength="5.0" lengthAdjust="spacingAndGlyphs">86</text>
<text x="576.58" y="305.10" textLength="5.0" lengthAdjust="spacingAndGlyphs">50</text>
<text x="577.74" y="264.88" textLength="5.0" lengthAdjust="spacingAndGlyphs">62</text>
<text x="578.90" y="207.89" textLength="5.0" lengthAdjust="spacingAndGlyphs">79</text>
<text x="580.05" y="201.19" textLength="5.0" lengthAdjust="spacingAndGlyphs">81</text>
<text x="581.21" y="295.04" textLength="5.0" lengthAdjust="spacingAndGlyphs">53</text>
<text x="582.37" y="201.19" textLength="5.0" lengthAdjust="spacingAndGlyphs">81</text>
<text x="583.53" y="241.41" textLength="5.0" lengthAdjust="spacingAndGlyphs">69</text>
<text x="584.69" y="214.60" textLength="5.0" lengthAdjust="spacingAndGlyphs">77</text>
<text x="585.85" y="164.32" textLength="5.0" lengthAdjust="spacingAndGlyphs">92</text>
<text x="587.01" y="228.00" textLength="5.0" lengthAdjust="spacingAndGlyphs">73</text>
<text x="588.17" y="154.26" textLength="5.0" lengthAdjust="spacingAndGlyphs">95</text>
<text x="589.33" y="137.50" textLength="7.5" lengthAdjust="spacingAndGlyphs">100</text>
<text x="590.48" y="238.06" textLength="5.0" lengthAdjust="spacingAndGlyphs">70</text>
<text x="591.64" y="157.61" textLength="5.0" lengthAdjust="spacingAndGlyphs">94</text>
<text x="592.80" y="197.84" textLength="5.0" lengthAdjust="spacingAndGlyphs">82</text>
<text x="593.96" y="191.13" textLength="5.0" lengthAdjust="spacingAndGlyphs">84</text>
<text x="595.12" y="207.89" textLength="5.0" lengthAdjust="spacingAndGlyphs">79</text>
<text x="596.28" y="197.84" textLength="5.0" lengthAdjust="spacingAndGlyphs">82</text>
<text x="597.44" y="184.43" textLength="5.0" lengthAdjust="spacingAndGlyphs">86</text>
<text x="598.60" y="184.43" textLength="5.0" lengthAdjust="spacingAndGlyphs">86</text>
<text x="599.76" y="271.58" textLength="5.0" lengthAdjust="spacingAndGlyphs">60</text>
<text x="600.91" y="194.48" textLength="5.0" lengthAdjust="spacingAndGlyphs">83</text>
<text x="602.07" y="171.02" textLength="5.0" lengthAdjust="spacingAndGlyphs">90</text>
<text x="603.23" y="204.54" textLength="5.0" lengthAdjust="spacingAndGlyphs">80</text>
<text x="604.39" y="174.37" textLength="5.0" lengthAdjust="spacingAndGlyphs">89</text>
<text x="605.55" y="254.82" textLength="5.0" lengthAdjust="spacingAndGlyphs">65</text>
<text x="606.71" y="231.36" textLength="5.0" lengthAdjust="spacingAndGlyphs">72</text>
<text x="607.87" y="271.58" textLength="5.0" lengthAdjust="spacingAndGlyphs">60</text>
<text x="609.03" y="201.19" textLength="5.0" lengthAdjust="spacingAndGlyphs">81</text>
<text x="610.19" y="160.96" textLength="5.0" lengthAdjust="spacingAndGlyphs">93</text>
<text x="611.34" y="207.89" textLength="5.0" lengthAdjust="spacingAndGlyphs">79</text>
<text x="612.50" y="164.32" textLength="5.0" lengthAdjust="spacingAndGlyphs">92</text>
<text x="613.66" y="191.13" textLength="5.0" lengthAdjust="spacingAndGlyphs">84</text>
<text x="614.82" y="221.30" textLength="5.0" lengthAdjust="spacingAndGlyphs">75</text>
<text x="615.98" y="207.89" textLength="5.0" lengthAdjust="spacingAndGlyphs">79</text>
<text x="617.14" y="234.71" textLength="5.0" lengthAdjust="spacingAndGlyphs">71</text>
<text x="618.30" y="278.28" textLength="5.0" lengthAdjust="spacingAndGlyphs">58</text>
<text x="619.46" y="284.99" textLength="5.0" lengthAdjust="spacingAndGlyphs">56</text>
<text x="620.62" y="271.58" textLength="5.0" lengthAdjust="spacingAndGlyphs">60</text>
<text x="621.77" y="298.40" textLength="5.0" lengthAdjust="spacingAndGlyphs">52</text>
<text x="622.93" y="288.34" textLength="5.0" lengthAdjust="spacingAndGlyphs">55</text>
<text x="624.09" y="301.75" textLength="5.0" lengthAdjust="spacingAndGlyphs">51</text>
<text x="625.25" y="284.99" textLength="5.0" lengthAdjust="spacingAndGlyphs">56</text>
<text x="626.41" y="295.04" textLength="5.0" lengthAdjust="spacingAndGlyphs">53</text>
<text x="627.57" y="271.58" textLength="5.0" lengthAdjust="spacingAndGlyphs">60</text>
<text x="628.73" y="284.99" textLength="5.0" lengthAdjust="spacingAndGlyphs">56</text>
<text x="629.89" y="268.23" textLength="5.0" lengthAdjust="spacingAndGlyphs">61</text>
<text x="631.05" y="298.40" textLength="5.0" lengthAdjust="spacingAndGlyphs">52</text>
<text x="632.21" y="315.16" textLength="5.0" lengthAdjust="spacingAndGlyphs">47</text>
<text x="633.36" y="301.75" textLength="5.0" lengthAdjust="spacingAndGlyphs">51</text>
<text x="634.52" y="331.92" textLength="5.0" lengthAdjust="spacingAndGlyphs">42</text>
<text x="635.68" y="301.75" textLength="5.0" lengthAdjust="spacingAndGlyphs">51</text>
<text x="636.84" y="311.80" textLength="5.0" lengthAdjust="spacingAndGlyphs">48</text>
<text x="638.00" y="325.21" textLength="5.0" lengthAdjust="spacingAndGlyphs">44</text>
<text x="639.16" y="331.92" textLength="5.0" lengthAdjust="spacingAndGlyphs">42</text>
<text x="640.32" y="348.68" textLength="5.0" lengthAdjust="spacingAndGlyphs">37</text>
<text x="641.48" y="352.03" textLength="5.0" lengthAdjust="spacingAndGlyphs">36</text>
<text x="642.64" y="352.03" textLength="5.0" lengthAdjust="spacingAndGlyphs">36</text>
<text x="643.79" y="358.73" textLength="5.0" lengthAdjust="spacingAndGlyphs">34</text>
<text x="644.95" y="352.03" textLength="5.0" lengthAdjust="spacingAndGlyphs">36</text>
<text x="646.11" y="352.03" textLength="5.0" lengthAdjust="spacingAndGlyphs">36</text>
<text x="647.27" y="335.27" textLength="5.0" lengthAdjust="spacingAndGlyphs">41</text>
<text x="648.43" y="375.49" textLength="5.0" lengthAdjust="spacingAndGlyphs">29</text>
<text x="649.59" y="405.66" textLength="5.0" lengthAdjust="spacingAndGlyphs">20</text>
<text x="650.75" y="368.79" textLength="5.0" lengthAdjust="spacingAndGlyphs">31</text>
<text x="651.91" y="368.79" textLength="5.0" lengthAdjust="spacingAndGlyphs">31</text>
<text x="653.07" y="405.66" textLength="5.0" lengthAdjust="spacingAndGlyphs">20</text>
<text x="654.22" y="402.31" textLength="5.0" lengthAdjust="spacingAndGlyphs">21</text>
<text x="655.38" y="409.01" textLength="5.0" lengthAdjust="spacingAndGlyphs">19</text>
<text x="656.54" y="395.60" textLength="5.0" lengthAdjust="spacingAndGlyphs">23</text>
<text x="657.70" y="402.31" textLength="5.0" lengthAdjust="spacingAndGlyphs">21</text>
<text x="658.86" y="402.31" textLength="5.0" lengthAdjust="spacingAndGlyphs">21</text>
<text x="660.02" y="395.60" textLength="5.0" lengthAdjust="spacingAndGlyphs">23</text>
<text x="661.18" y="435.83" textLength="5.0" lengthAdjust="spacingAndGlyphs">11</text>
<text x="662.34" y="402.31" textLength="5.0" lengthAdjust="spacingAndGlyphs">21</text>
<text x="663.50" y="412.36" textLength="5.0" lengthAdjust="spacingAndGlyphs">18</text>
<text x="664.65" y="412.36" textLength="5.0" lengthAdjust="spacingAndGlyphs">18</text>
<text x="665.81" y="405.66" textLength="5.0" lengthAdjust="spacingAndGlyphs">20</text>
<text x="666.97" y="435.83" textLength="5.0" lengthAdjust="spacingAndGlyphs">11</text>
<text x="668.13" y="412.36" textLength="5.0" lengthAdjust="spacingAndGlyphs">18</text>
<text x="669.29" y="385.55" textLength="5.0" lengthAdjust="spacingAndGlyphs">26</text>
<text x="670.45" y="382.20" textLength="5.0" lengthAdjust="spacingAndGlyphs">27</text>
<text x="671.61" y="392.25" textLength="5.0" lengthAdjust="spacingAndGlyphs">24</text>
<text x="672.77" y="395.60" textLength="5.0" lengthAdjust="spacingAndGlyphs">23</text>
<text x="673.93" y="422.42" textLength="5.0" lengthAdjust="spacingAndGlyphs">15</text>
<text x="675.08" y="412.36" textLength="5.0" lengthAdjust="spacingAndGlyphs">18</text>
<text x="676.24" y="422.42" textLength="5.0" lengthAdjust="spacingAndGlyphs">15</text>
<text x="677.40" y="422.42" textLength="5.0" lengthAdjust="spacingAndGlyphs">15</text>
<text x="678.56" y="449.24" textLength="2.5" lengthAdjust="spacingAndGlyphs">7</text>
<text x="679.72" y="439.18" textLength="5.0" lengthAdjust="spacingAndGlyphs">10</text>
<text x="680.88" y="435.83" textLength="5.0" lengthAdjust="spacingAndGlyphs">11</text>
<text x="682.04" y="442.53" textLength="2.5" lengthAdjust="spacingAndGlyphs">9</text>
<text x="683.20" y="435.83" textLength="5.0" lengthAdjust="spacingAndGlyphs">11</text>
<text x="684.36" y="439.18" textLength="5.0" lengthAdjust="spacingAndGlyphs">10</text>
<text x="685.51" y="432.48" textLength="5.0" lengthAdjust="spacingAndGlyphs">12</text>
<text x="686.67" y="439.18" textLength="5.0" lengthAdjust="spacingAndGlyphs">10</text>
<text x="687.83" y="432.48" textLength="5.0" lengthAdjust="spacingAndGlyphs">12</text>
<text x="688.99" y="432.48" textLength="5.0" lengthAdjust="spacingAndGlyphs">12</text>
<text x="690.15" y="459.29" textLength="2.5" lengthAdjust="spacingAndGlyphs">4</text>
<text x="691.31" y="445.88" textLength="2.5" lengthAdjust="spacingAndGlyphs">8</text>
<text x="692.47" y="452.59" textLength="2.5" lengthAdjust="spacingAndGlyphs">6</text>
<text x="693.63" y="442.53" textLength="2.5" lengthAdjust="spacingAndGlyphs">9</text>
<text x="694.79" y="432.48" textLength="5.0" lengthAdjust="spacingAndGlyphs">12</text>
<text x="695.94" y="432.48" textLength="5.0" lengthAdjust="spacingAndGlyphs">12</text>
<text x="697.10" y="425.77" textLength="5.0" lengthAdjust="spacingAndGlyphs">14</text>
<text x="698.26" y="425.77" textLength="5.0" lengthAdjust="spacingAndGlyphs">14</text>
<text x="699.42" y="439.18" textLength="5.0" lengthAdjust="spacingAndGlyphs">10</text>
<text x="700.58" y="435.83" textLength="5.0" lengthAdjust="spacingAndGlyphs">11</text>
<text x="701.74" y="452.59" textLength="2.5" lengthAdjust="spacingAndGlyphs">6</text>
<text x="702.90" y="439.18" textLength="5.0" lengthAdjust="spacingAndGlyphs">10</text>
<text x="704.06" y="435.83" textLength="5.0" lengthAdjust="spacingAndGlyphs">11</text>
<text x="705.22" y="442.53" textLength="2.5" lengthAdjust="spacingAndGlyphs">9</text>
<text x="706.37" y="442.53" textLength="2.5" lengthAdjust="spacingAndGlyphs">9</text>
<text x="707.53" y="425.77" textLength="5.0" lengthAdjust="spacingAndGlyphs">14</text>
<text x="708.69" y="419.07" textLength="5.0" lengthAdjust="spacingAndGlyphs">16</text>
<text x="709.85" y="419.07" textLength="5.0" lengthAdjust="spacingAndGlyphs">16</text>
<text x="711.01" y="409.01" textLength="5.0" lengthAdjust="spacingAndGlyphs">19</text>
<text x="712.17" y="402.31" textLength="5.0" lengthAdjust="spacingAndGlyphs">21</text>
<text x="713.33" y="409.01" textLength="5.0" lengthAdjust="spacingAndGlyphs">19</text>
<text x="714.49" y="409.01" textLength="5.0" lengthAdjust="spacingAndGlyphs">19</text>
<text x="715.65" y="425.77" textLength="5.0" lengthAdjust="spacingAndGlyphs">14</text>
<text x="716.80" y="419.07" textLength="5.0" lengthAdjust="spacingAndGlyphs">16</text>
<text x="717.96" y="405.66" textLength="5.0" lengthAdjust="spacingAndGlyphs">20</text>
<text x="719.12" y="405.66" textLength="5.0" lengthAdjust="spacingAndGlyphs">20</text>
<text x="720.28" y="415.72" textLength="5.0" lengthAdjust="spacingAndGlyphs">17</text>
<text x="721.44" y="405.66" textLength="5.0" lengthAdjust="spacingAndGlyphs">20</text>
<text x="722.60" y="395.60" textLength="5.0" lengthAdjust="spacingAndGlyphs">23</text>
<text x="723.76" y="385.55" textLength="5.0" lengthAdjust="spacingAndGlyphs">26</text>
<text x="724.92" y="398.96" textLength="5.0" lengthAdjust="spacingAndGlyphs">22</text>
<text x="726.08" y="402.31" textLength="5.0" lengthAdjust="spacingAndGlyphs">21</text>
<text x="727.23" y="375.49" textLength="5.0" lengthAdjust="spacingAndGlyphs">29</text>
<text x="728.39" y="375.49" textLength="5.0" lengthAdjust="spacingAndGlyphs">29</text>
<text x="729.55" y="365.44" textLength="5.0" lengthAdjust="spacingAndGlyphs">32</text>
<text x="730.71" y="375.49" textLength="5.0" lengthAdjust="spacingAndGlyphs">29</text>
<text x="731.87" y="372.14" textLength="5.0" lengthAdjust="spacingAndGlyphs">30</text>
<text x="733.03" y="372.14" textLength="5.0" lengthAdjust="spacingAndGlyphs">30</text>
<text x="734.19" y="365.44" textLength="5.0" lengthAdjust="spacingAndGlyphs">32</text>
<text x="735.35" y="372.14" textLength="5.0" lengthAdjust="spacingAndGlyphs">30</text>
<text x="736.51" y="372.14" textLength="5.0" lengthAdjust="spacingAndGlyphs">30</text>
<text x="737.66" y="341.97" textLength="5.0" lengthAdjust="spacingAndGlyphs">39</text>
<text x="738.82" y="352.03" textLength="5.0" lengthAdjust="spacingAndGlyphs">36</text>
<text x="739.98" y="328.56" textLength="5.0" lengthAdjust="spacingAndGlyphs">43</text>
<text x="741.14" y="328.56" textLength="5.0" lengthAdjust="spacingAndGlyphs">43</text>
<text x="742.30" y="385.55" textLength="5.0" lengthAdjust="spacingAndGlyphs">26</text>
<text x="743.46" y="362.08" textLength="5.0" lengthAdjust="spacingAndGlyphs">33</text>
<text x="744.62" y="362.08" textLength="5.0" lengthAdjust="spacingAndGlyphs">33</text>
<text x="745.78" y="335.27" textLength="5.0" lengthAdjust="spacingAndGlyphs">41</text>
<text x="746.94" y="388.90" textLength="5.0" lengthAdjust="spacingAndGlyphs">25</text>
<text x="748.10" y="338.62" textLength="5.0" lengthAdjust="spacingAndGlyphs">40</text>
<text x="749.25" y="348.68" textLength="5.0" lengthAdjust="spacingAndGlyphs">37</text>
<text x="750.41" y="345.32" textLength="5.0" lengthAdjust="spacingAndGlyphs">38</text>
<text x="751.57" y="402.31" textLength="5.0" lengthAdjust="spacingAndGlyphs">21</text>
<text x="752.73" y="338.62" textLength="5.0" lengthAdjust="spacingAndGlyphs">40</text>
<text x="753.89" y="348.68" textLength="5.0" lengthAdjust="spacingAndGlyphs">37</text>
<text x="755.05" y="331.92" textLength="5.0" lengthAdjust="spacingAndGlyphs">42</text>
<text x="756.21" y="358.73" textLength="5.0" lengthAdjust="spacingAndGlyphs">34</text>
<text x="757.37" y="325.21" textLength="5.0" lengthAdjust="spacingAndGlyphs">44</text>
<text x="758.53" y="352.03" textLength="5.0" lengthAdjust="spacingAndGlyphs">36</text>
<text x="759.68" y="328.56" textLength="5.0" lengthAdjust="spacingAndGlyphs">43</text>
<text x="760.84" y="328.56" textLength="5.0" lengthAdjust="spacingAndGlyphs">43</text>
<text x="762.00" y="355.38" textLength="5.0" lengthAdjust="spacingAndGlyphs">35</text>
<text x="763.16" y="345.32" textLength="5.0" lengthAdjust="spacingAndGlyphs">38</text>
<text x="764.32" y="341.97" textLength="5.0" lengthAdjust="spacingAndGlyphs">39</text>
<text x="765.48" y="331.92" textLength="5.0" lengthAdjust="spacingAndGlyphs">42</text>
<text x="766.64" y="338.62" textLength="5.0" lengthAdjust="spacingAndGlyphs">40</text>
<text x="767.80" y="331.92" textLength="5.0" lengthAdjust="spacingAndGlyphs">42</text>
<text x="768.96" y="325.21" textLength="5.0" lengthAdjust="spacingAndGlyphs">44</text>
<text x="770.11" y="318.51" textLength="5.0" lengthAdjust="spacingAndGlyphs">46</text>
<text x="771.27" y="375.49" textLength="5.0" lengthAdjust="spacingAndGlyphs">29</text>
<text x="772.43" y="345.32" textLength="5.0" lengthAdjust="spacingAndGlyphs">38</text>
<text x="773.59" y="338.62" textLength="5.0" lengthAdjust="spacingAndGlyphs">40</text>
<text x="774.75" y="355.38" textLength="5.0" lengthAdjust="spacingAndGlyphs">35</text>
<text x="775.91" y="355.38" textLength="5.0" lengthAdjust="spacingAndGlyphs">35</text>
<text x="777.07" y="365.44" textLength="5.0" lengthAdjust="spacingAndGlyphs">32</text>
<text x="778.23" y="355.38" textLength="5.0" lengthAdjust="spacingAndGlyphs">35</text>
<text x="779.39" y="362.08" textLength="5.0" lengthAdjust="spacingAndGlyphs">33</text>
<text x="780.54" y="378.84" textLength="5.0" lengthAdjust="spacingAndGlyphs">28</text>
<text x="781.70" y="352.03" textLength="5.0" lengthAdjust="spacingAndGlyphs">36</text>
<text x="782.86" y="355.38" textLength="5.0" lengthAdjust="spacingAndGlyphs">35</text>
<text x="784.02" y="345.32" textLength="5.0" lengthAdjust="spacingAndGlyphs">38</text>
<text x="785.18" y="372.14" textLength="5.0" lengthAdjust="spacingAndGlyphs">30</text>
<text x="786.34" y="345.32" textLength="5.0" lengthAdjust="spacingAndGlyphs">38</text>
<text x="787.50" y="355.38" textLength="5.0" lengthAdjust="spacingAndGlyphs">35</text>
<text x="788.66" y="355.38" textLength="5.0" lengthAdjust="spacingAndGlyphs">35</text>
<text x="789.82" y="358.73" textLength="5.0" lengthAdjust="spacingAndGlyphs">34</text>
<text x="790.97" y="365.44" textLength="5.0" lengthAdjust="spacingAndGlyphs">32</text>
<text x="792.13" y="355.38" textLength="5.0" lengthAdjust="spacingAndGlyphs">35</text>
<text x="793.29" y="325.21" textLength="5.0" lengthAdjust="spacingAndGlyphs">44</text>
<text x="794.45" y="328.56" textLength="5.0" lengthAdjust="spacingAndGlyphs">43</text>
<text x="795.61" y="328.56" textLength="5.0" lengthAdjust="spacingAndGlyphs">43</text>
<text x="796.77" y="345.32" textLength="5.0" lengthAdjust="spacingAndGlyphs">38</text>
<text x="797.93" y="355.38" textLength="5.0" lengthAdjust="spacingAndGlyphs">35</text>
<text x="799.09" y="341.97" textLength="5.0" lengthAdjust="spacingAndGlyphs">39</text>
<text x="800.25" y="341.97" textLength="5.0" lengthAdjust="spacingAndGlyphs">39</text>
<text x="801.40" y="335.27" textLength="5.0" lengthAdjust="spacingAndGlyphs">41</text>
<text x="802.56" y="335.27" textLength="5.0" lengthAdjust="spacingAndGlyphs">41</text>
<text x="803.72" y="348.68" textLength="5.0" lengthAdjust="spacingAndGlyphs">37</text>
<text x="804.88" y="341.97" textLength="5.0" lengthAdjust="spacingAndGlyphs">39</text>
<text x="806.04" y="362.08" textLength="5.0" lengthAdjust="spacingAndGlyphs">33</text>
<text x="807.20" y="331.92" textLength="5.0" lengthAdjust="spacingAndGlyphs">42</text>
<text x="808.36" y="305.10" textLength="5.0" lengthAdjust="spacingAndGlyphs">50</text>
<text x="809.52" y="345.32" textLength="5.0" lengthAdjust="spacingAndGlyphs">38</text>
<text x="810.68" y="301.75" textLength="5.0" lengthAdjust="spacingAndGlyphs">51</text>
<text x="811.83" y="305.10" textLength="5.0" lengthAdjust="spacingAndGlyphs">50</text>
<text x="812.99" y="362.08" textLength="5.0" lengthAdjust="spacingAndGlyphs">33</text>
<text x="814.15" y="362.08" textLength="5.0" lengthAdjust="spacingAndGlyphs">33</text>
<text x="815.31" y="338.62" textLength="5.0" lengthAdjust="spacingAndGlyphs">40</text>
<text x="816.47" y="301.75" textLength="5.0" lengthAdjust="spacingAndGlyphs">51</text>
<text x="817.63" y="318.51" textLength="5.0" lengthAdjust="spacingAndGlyphs">46</text>
<text x="818.79" y="331.92" textLength="5.0" lengthAdjust="spacingAndGlyphs">42</text>
<text x="819.95" y="308.45" textLength="5.0" lengthAdjust="spacingAndGlyphs">49</text>
<text x="821.11" y="288.34" textLength="5.0" lengthAdjust="spacingAndGlyphs">55</text>
<text x="822.26" y="301.75" textLength="5.0" lengthAdjust="spacingAndGlyphs">51</text>
<text x="823.42" y="298.40" textLength="5.0" lengthAdjust="spacingAndGlyphs">52</text>
<text x="824.58" y="284.99" textLength="5.0" lengthAdjust="spacingAndGlyphs">56</text>
<text x="825.74" y="284.99" textLength="5.0" lengthAdjust="spacingAndGlyphs">56</text>
<text x="826.90" y="352.03" textLength="5.0" lengthAdjust="spacingAndGlyphs">36</text>
<text x="828.06" y="281.64" textLength="5.0" lengthAdjust="spacingAndGlyphs">57</text>
<text x="829.22" y="301.75" textLength="5.0" lengthAdjust="spacingAndGlyphs">51</text>
<text x="830.38" y="254.82" textLength="5.0" lengthAdjust="spacingAndGlyphs">65</text>
<text x="831.54" y="244.76" textLength="5.0" lengthAdjust="spacingAndGlyphs">68</text>
<text x="832.69" y="274.93" textLength="5.0" lengthAdjust="spacingAndGlyphs">59</text>
<text x="833.85" y="221.30" textLength="5.0" lengthAdjust="spacingAndGlyphs">75</text>
<text x="835.01" y="191.13" textLength="5.0" lengthAdjust="spacingAndGlyphs">84</text>
<text x="836.17" y="244.76" textLength="5.0" lengthAdjust="spacingAndGlyphs">68</text>
<text x="837.33" y="154.26" textLength="5.0" lengthAdjust="spacingAndGlyphs">95</text>
<text x="838.49" y="197.84" textLength="5.0" lengthAdjust="spacingAndGlyphs">82</text>
<text x="839.65" y="127.44" textLength="7.5" lengthAdjust="spacingAndGlyphs">103</text>
<text x="840.81" y="171.02" textLength="5.0" lengthAdjust="spacingAndGlyphs">90</text>
<text x="841.97" y="217.95" textLength="5.0" lengthAdjust="spacingAndGlyphs">76</text>
<text x="843.12" y="164.32" textLength="5.0" lengthAdjust="spacingAndGlyphs">92</text>
<text x="844.28" y="160.96" textLength="5.0" lengthAdjust="spacingAndGlyphs">93</text>
<text x="845.44" y="144.20" textLength="5.0" lengthAdjust="spacingAndGlyphs">98</text>
<text x="846.60" y="157.61" textLength="5.0" lengthAdjust="spacingAndGlyphs">94</text>
<text x="847.76" y="167.67" textLength="5.0" lengthAdjust="spacingAndGlyphs">91</text>
<text x="848.92" y="187.78" textLength="5.0" lengthAdjust="spacingAndGlyphs">85</text>
<text x="850.08" y="160.96" textLength="5.0" lengthAdjust="spacingAndGlyphs">93</text>
<text x="851.24" y="181.08" textLength="5.0" lengthAdjust="spacingAndGlyphs">87</text>
<text x="852.40" y="124.09" textLength="7.5" lengthAdjust="spacingAndGlyphs">104</text>
<text x="853.55" y="97.28" textLength="7.5" lengthAdjust="spacingAndGlyphs">112</text>
<text x="854.71" y="107.33" textLength="7.5" lengthAdjust="spacingAndGlyphs">109</text>
<text x="855.87" y="207.89" textLength="5.0" lengthAdjust="spacingAndGlyphs">79</text>
<text x="857.03" y="167.67" textLength="5.0" lengthAdjust="spacingAndGlyphs">91</text>
<text x="858.19" y="191.13" textLength="5.0" lengthAdjust="spacingAndGlyphs">84</text>
<text x="859.35" y="107.33" textLength="7.5" lengthAdjust="spacingAndGlyphs">109</text>
<text x="860.51" y="117.39" textLength="7.5" lengthAdjust="spacingAndGlyphs">106</text>
<text x="861.67" y="264.88" textLength="5.0" lengthAdjust="spacingAndGlyphs">62</text>
<text x="862.83" y="472.70" textLength="2.5" lengthAdjust="spacingAndGlyphs">0</text></g>
<path d="M80.5,59 V497.5 H893" fill="none" stroke="#000" stroke-width="1"/>
<line x1="72" y1="481.10" x2="80.5" y2="481.10" stroke="#000" stroke-width="1"/>
<text x="63.4" y="484.9" font-size="13.8" text-anchor="end" font-weight="normal" fill="#000" textLength="6.8" lengthAdjust="spacingAndGlyphs">0</text>
<line x1="72" y1="414.06" x2="80.5" y2="414.06" stroke="#000" stroke-width="1"/>
<text x="63.4" y="417.86" font-size="13.8" text-anchor="end" font-weight="normal" fill="#000" textLength="13.2" lengthAdjust="spacingAndGlyphs">20</text>
<line x1="72" y1="347.02" x2="80.5" y2="347.02" stroke="#000" stroke-width="1"/>
<text x="63.4" y="350.82" font-size="13.8" text-anchor="end" font-weight="normal" fill="#000" textLength="13.2" lengthAdjust="spacingAndGlyphs">40</text>
<line x1="72" y1="279.98" x2="80.5" y2="279.98" stroke="#000" stroke-width="1"/>
<text x="63.4" y="283.78" font-size="13.8" text-anchor="end" font-weight="normal" fill="#000" textLength="13.2" lengthAdjust="spacingAndGlyphs">60</text>
<line x1="72" y1="212.94" x2="80.5" y2="212.94" stroke="#000" stroke-width="1"/>
<text x="63.4" y="216.74" font-size="13.8" text-anchor="end" font-weight="normal" fill="#000" textLength="13.2" lengthAdjust="spacingAndGlyphs">80</text>
<line x1="72" y1="145.90" x2="80.5" y2="145.90" stroke="#000" stroke-width="1"/>
<text x="63.4" y="149.7" font-size="13.8" text-anchor="end" font-weight="normal" fill="#000" textLength="19.2" lengthAdjust="spacingAndGlyphs">100</text>
<line x1="72" y1="78.86" x2="80.5" y2="78.86" stroke="#000" stroke-width="1"/>
<text x="63.4" y="82.66" font-size="13.8" text-anchor="end" font-weight="normal" fill="#000" textLength="19.2" lengthAdjust="spacingAndGlyphs">120</text>
<line x1="469.2" y1="497.5" x2="469.2" y2="505.5" stroke="#000" stroke-width="1"/>
<text x="469.2" y="526.2" font-size="13.8" text-anchor="middle" font-weight="normal" fill="#000" textLength="25.5" lengthAdjust="spacingAndGlyphs">2021</text>
<line x1="893" y1="497.5" x2="893" y2="505.5" stroke="#000" stroke-width="1"/>
<text x="893" y="526.2" font-size="13.8" text-anchor="middle" font-weight="normal" fill="#000" textLength="25.5" lengthAdjust="spacingAndGlyphs">2022</text>
<line x1="893.5" y1="155.23" x2="893.5" y2="481.10" stroke="#000" stroke-width="1"/>
<line x1="893.5" y1="481.10" x2="901.5" y2="481.10" stroke="#000" stroke-width="1"/>
<text x="922.3" y="481.1" font-size="13.8" text-anchor="middle" font-weight="normal" fill="#000" textLength="7" lengthAdjust="spacingAndGlyphs" transform="rotate(-90 922.3 481.1)">0</text>
<line x1="893.5" y1="372.48" x2="901.5" y2="372.48" stroke="#000" stroke-width="1"/>
<text x="922.3" y="372.48" font-size="13.8" text-anchor="middle" font-weight="normal" fill="#000" textLength="30" lengthAdjust="spacingAndGlyphs" transform="rotate(-90 922.3 372.48)">5000</text>
<line x1="893.5" y1="263.85" x2="901.5" y2="263.85" stroke="#000" stroke-width="1"/>
<text x="922.3" y="263.85" font-size="13.8" text-anchor="middle" font-weight="normal" fill="#000" textLength="37.5" lengthAdjust="spacingAndGlyphs" transform="rotate(-90 922.3 263.85)">10000</text>
<line x1="893.5" y1="155.23" x2="901.5" y2="155.23" stroke="#000" stroke-width="1"/>
<text x="922.3" y="155.23" font-size="13.8" text-anchor="middle" font-weight="normal" fill="#000" textLength="36.8" lengthAdjust="spacingAndGlyphs" transform="rotate(-90 922.3 155.23)">15000</text>
<text x="28.2" y="278.2" font-size="14" text-anchor="middle" font-weight="normal" fill="#000" textLength="144.2" lengthAdjust="spacingAndGlyphs" transform="rotate(-90 28.2 278.2)">Αριθμός νέων θανάτων</text>
<text x="954.6" y="278.0" font-size="14" text-anchor="middle" font-weight="normal" fill="#000" textLength="175.6" lengthAdjust="spacingAndGlyphs" transform="rotate(-90 954.6 278.0)">Συνολικός αριθμός θανάτων</text>
<text x="486.7" y="558.3" font-size="14" text-anchor="middle" font-weight="normal" fill="#000" textLength="131.8" lengthAdjust="spacingAndGlyphs">Ημερομηνία θανάτου</text>
<text x="447.3" y="370.8" font-size="12.8" text-anchor="start" font-weight="bold" fill="#ff0000" textLength="29.8" lengthAdjust="spacingAndGlyphs">4682</text>
<text x="574.7" y="267.8" font-size="12.8" text-anchor="start" font-weight="bold" fill="#ff0000" textLength="28.8" lengthAdjust="spacingAndGlyphs">9394</text>
<text x="844.7" y="66.1" font-size="12.8" text-anchor="start" font-weight="bold" fill="#ff0000" textLength="35.5" lengthAdjust="spacingAndGlyphs">18716</text>
<path d="M110.60,481.10C118.07,481.07 125.53,481.06 133.00,481.00C144.00,480.92 155.00,479.99 166.00,479.60C177.00,479.21 188.00,478.93 199.00,478.60C210.00,478.27 221.00,477.90 232.00,477.60C241.33,477.34 250.67,477.18 260.00,476.90C273.33,476.50 286.67,475.93 300.00,475.40C315.00,474.80 330.00,474.34 345.00,473.50C353.33,473.03 361.67,472.52 370.00,471.60C372.87,471.28 375.73,470.65 378.60,470.20C381.50,469.75 384.40,469.43 387.30,468.90C390.53,468.31 393.77,467.66 397.00,466.60C400.43,465.48 403.87,463.54 407.30,461.10C410.17,459.06 413.03,455.56 415.90,452.20C418.80,448.80 421.70,444.87 424.60,440.40C427.07,436.60 429.53,431.96 432.00,427.30C434.00,423.52 436.00,418.97 438.00,415.20C440.27,410.93 442.53,407.10 444.80,403.20C446.50,400.27 448.20,397.15 449.90,394.60C452.07,391.35 454.23,388.37 456.40,385.90C459.57,382.28 462.73,379.69 465.90,376.60C467.27,375.26 468.63,373.80 470.00,372.60C471.33,371.43 472.67,370.38 474.00,369.40C475.53,368.28 477.07,367.19 478.60,366.30C481.50,364.62 484.40,363.49 487.30,362.00C490.17,360.53 493.03,359.01 495.90,357.40C497.27,356.63 498.63,355.75 500.00,355.00C502.87,353.42 505.73,351.97 508.60,350.60C511.50,349.21 514.40,348.01 517.30,346.70C520.17,345.41 523.03,344.16 525.90,342.80C528.77,341.44 531.63,340.07 534.50,338.50C535.97,337.70 537.43,336.89 538.90,335.90C540.33,334.93 541.77,333.68 543.20,332.50C545.47,330.63 547.73,328.82 550.00,326.60C552.03,324.61 554.07,322.15 556.10,319.80C559.57,315.79 563.03,311.27 566.50,307.20C569.33,303.87 572.17,301.14 575.00,297.50C577.40,294.42 579.80,290.53 582.20,287.00C584.53,283.57 586.87,279.87 589.20,276.60C591.80,272.96 594.40,270.05 597.00,266.30C599.20,263.13 601.40,259.29 603.60,255.90C605.23,253.38 606.87,250.60 608.50,248.50C610.83,245.50 613.17,243.20 615.50,240.80C618.17,238.06 620.83,235.57 623.50,233.10C626.03,230.75 628.57,228.36 631.10,226.30C634.07,223.89 637.03,221.36 640.00,219.70C642.80,218.13 645.60,217.17 648.40,215.90C652.43,214.07 656.47,212.14 660.50,210.40C663.67,209.04 666.83,207.37 670.00,206.50C673.73,205.47 677.47,204.91 681.20,204.20C684.93,203.49 688.67,202.81 692.40,202.20C696.17,201.58 699.93,201.21 703.70,200.50C707.43,199.80 711.17,198.82 714.90,197.70C718.63,196.58 722.37,195.08 726.10,193.50C729.83,191.93 733.57,190.20 737.30,188.10C744.17,184.23 751.03,178.25 757.90,173.50C762.23,170.50 766.57,167.41 770.90,164.70C775.20,162.01 779.50,159.67 783.80,157.20C788.13,154.71 792.47,152.43 796.80,149.80C801.10,147.19 805.40,144.62 809.70,141.40C813.53,138.53 817.37,134.97 821.20,131.30C825.30,127.37 829.40,123.22 833.50,118.30C836.63,114.54 839.77,110.04 842.90,105.40C845.60,101.40 848.30,96.90 851.00,92.40C853.50,88.23 856.00,82.51 858.50,79.40C860.07,77.45 861.63,76.27 863.20,74.70" fill="none" stroke="#ff0000" stroke-width="9.2" stroke-linecap="round" stroke-linejoin="round"/>
</svg>
</body></html>
